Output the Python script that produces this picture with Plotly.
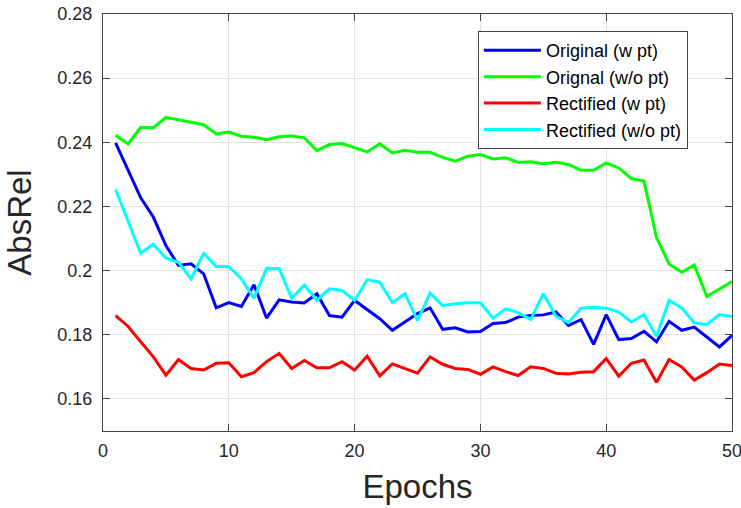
import plotly.graph_objects as go

epochs = list(range(1, 51))

orig_w_pt = [0.2398, 0.2315, 0.2227, 0.2167, 0.2078, 0.2016, 0.2021, 0.1990, 0.1884, 0.1900,
             0.1888, 0.1956, 0.1852, 0.1909, 0.1902, 0.1899, 0.1928, 0.1860, 0.1855, 0.1907,
             0.1878, 0.1850, 0.1814, 0.1840, 0.1866, 0.1884, 0.1817, 0.1822, 0.1809, 0.1810,
             0.1835, 0.1838, 0.1855, 0.1860, 0.1862, 0.1871, 0.1829, 0.1847, 0.1770, 0.1863,
             0.1785, 0.1788, 0.1811, 0.1778, 0.1842, 0.1814, 0.1824, 0.1793, 0.1762, 0.1798]

orig_wo_pt = [0.2422, 0.2395, 0.2447, 0.2445, 0.2478, 0.2471, 0.2463, 0.2455, 0.2426, 0.2432,
              0.2419, 0.2416, 0.2408, 0.2417, 0.2420, 0.2414, 0.2374, 0.2393, 0.2396, 0.2382,
              0.2370, 0.2395, 0.2367, 0.2375, 0.2369, 0.2369, 0.2353, 0.2341, 0.2357, 0.2362,
              0.2348, 0.2352, 0.2337, 0.2339, 0.2333, 0.2338, 0.2331, 0.2313, 0.2313, 0.2336,
              0.2320, 0.2287, 0.2279, 0.2103, 0.2021, 0.1995, 0.2018, 0.1919, 0.1943, 0.1966]

rect_w_pt = [0.1860, 0.1826, 0.1778, 0.1731, 0.1674, 0.1723, 0.1695, 0.1690, 0.1711, 0.1713,
             0.1669, 0.1682, 0.1716, 0.1742, 0.1695, 0.1720, 0.1697, 0.1697, 0.1716, 0.1690,
             0.1733, 0.1672, 0.1709, 0.1695, 0.1680, 0.1731, 0.1708, 0.1695, 0.1692, 0.1677,
             0.1700, 0.1685, 0.1673, 0.1700, 0.1695, 0.1680, 0.1678, 0.1683, 0.1685, 0.1726,
             0.1671, 0.1711, 0.1721, 0.1652, 0.1723, 0.1700, 0.1659, 0.1682, 0.1709, 0.1704]

rect_wo_pt = [0.2253, 0.2155, 0.2054, 0.2083, 0.2039, 0.2026, 0.1974, 0.2054, 0.2013, 0.2013,
              0.1974, 0.1914, 0.2007, 0.2006, 0.1914, 0.1955, 0.1907, 0.1943, 0.1938, 0.1907,
              0.1972, 0.1964, 0.1900, 0.1928, 0.1845, 0.1930, 0.1891, 0.1897, 0.1900, 0.1900,
              0.1852, 0.1881, 0.1869, 0.1848, 0.1928, 0.1858, 0.1838, 0.1883, 0.1886, 0.1883,
              0.1871, 0.1840, 0.1863, 0.1795, 0.1907, 0.1884, 0.1837, 0.1832, 0.1863, 0.1857]

series_names = ["Original (w pt)", "Orignal (w/o pt)", "Rectified (w pt)", "Rectified (w/o pt)"]
series_vals = [orig_w_pt, orig_wo_pt, rect_w_pt, rect_wo_pt]
series_colors = ["#0000FF", "#00FF00", "#FF0000", "#00FFFF"]

y_tickvals = [0.16, 0.18, 0.20, 0.22, 0.24, 0.26, 0.28]
y_ticktext = ["0.16", "0.18", "0.2", "0.22", "0.24", "0.26", "0.28"]
x_tickvals = [0, 10, 20, 30, 40, 50]

fig = go.Figure()
for name, vals, col in zip(series_names, series_vals, series_colors):
    fig.add_trace(go.Scatter(x=epochs, y=vals, mode="lines", name=name,
                             line=dict(color=col, width=3)))

font_family = "Liberation Sans, Arial, Helvetica, sans-serif"
fig.update_layout(
    width=741, height=508,
    margin=dict(l=103, r=9, t=14, b=77, autoexpand=False),
    plot_bgcolor="white", paper_bgcolor="white",
    font=dict(family=font_family, color="#262626", size=18),
    legend=dict(x=0.596, y=0.959, xanchor="left", yanchor="top",
                bgcolor="white", bordercolor="#444", borderwidth=1,
                font=dict(size=18, color="black"), tracegroupgap=0,
                itemwidth=57),
    showlegend=True,
)
fig.update_xaxes(range=[0, 50], tickvals=x_tickvals, showgrid=True, gridcolor="#e3e3e3",
                 showline=True, linecolor="#444", linewidth=1, mirror="ticks",
                 ticks="inside", ticklen=7, tickcolor="#444", zeroline=False,
                 tickfont=dict(size=18), automargin=False, ticklabeloverflow="allow",
                 ticklabelstandoff=3,
                 title=dict(text="Epochs", font=dict(size=33, color="#262626"), standoff=15))
fig.update_yaxes(range=[0.15, 0.28], tickvals=y_tickvals, ticktext=y_ticktext,
                 showgrid=True, gridcolor="#e3e3e3",
                 showline=True, linecolor="#444", linewidth=1, mirror="ticks",
                 ticks="inside", ticklen=7, tickcolor="#444", zeroline=False,
                 tickfont=dict(size=18), ticklabelstandoff=6, automargin=False,
                 ticklabeloverflow="allow",
                 title=dict(text="AbsRel", font=dict(size=33, color="#262626"), standoff=15))

fig.write_html("out.html")
